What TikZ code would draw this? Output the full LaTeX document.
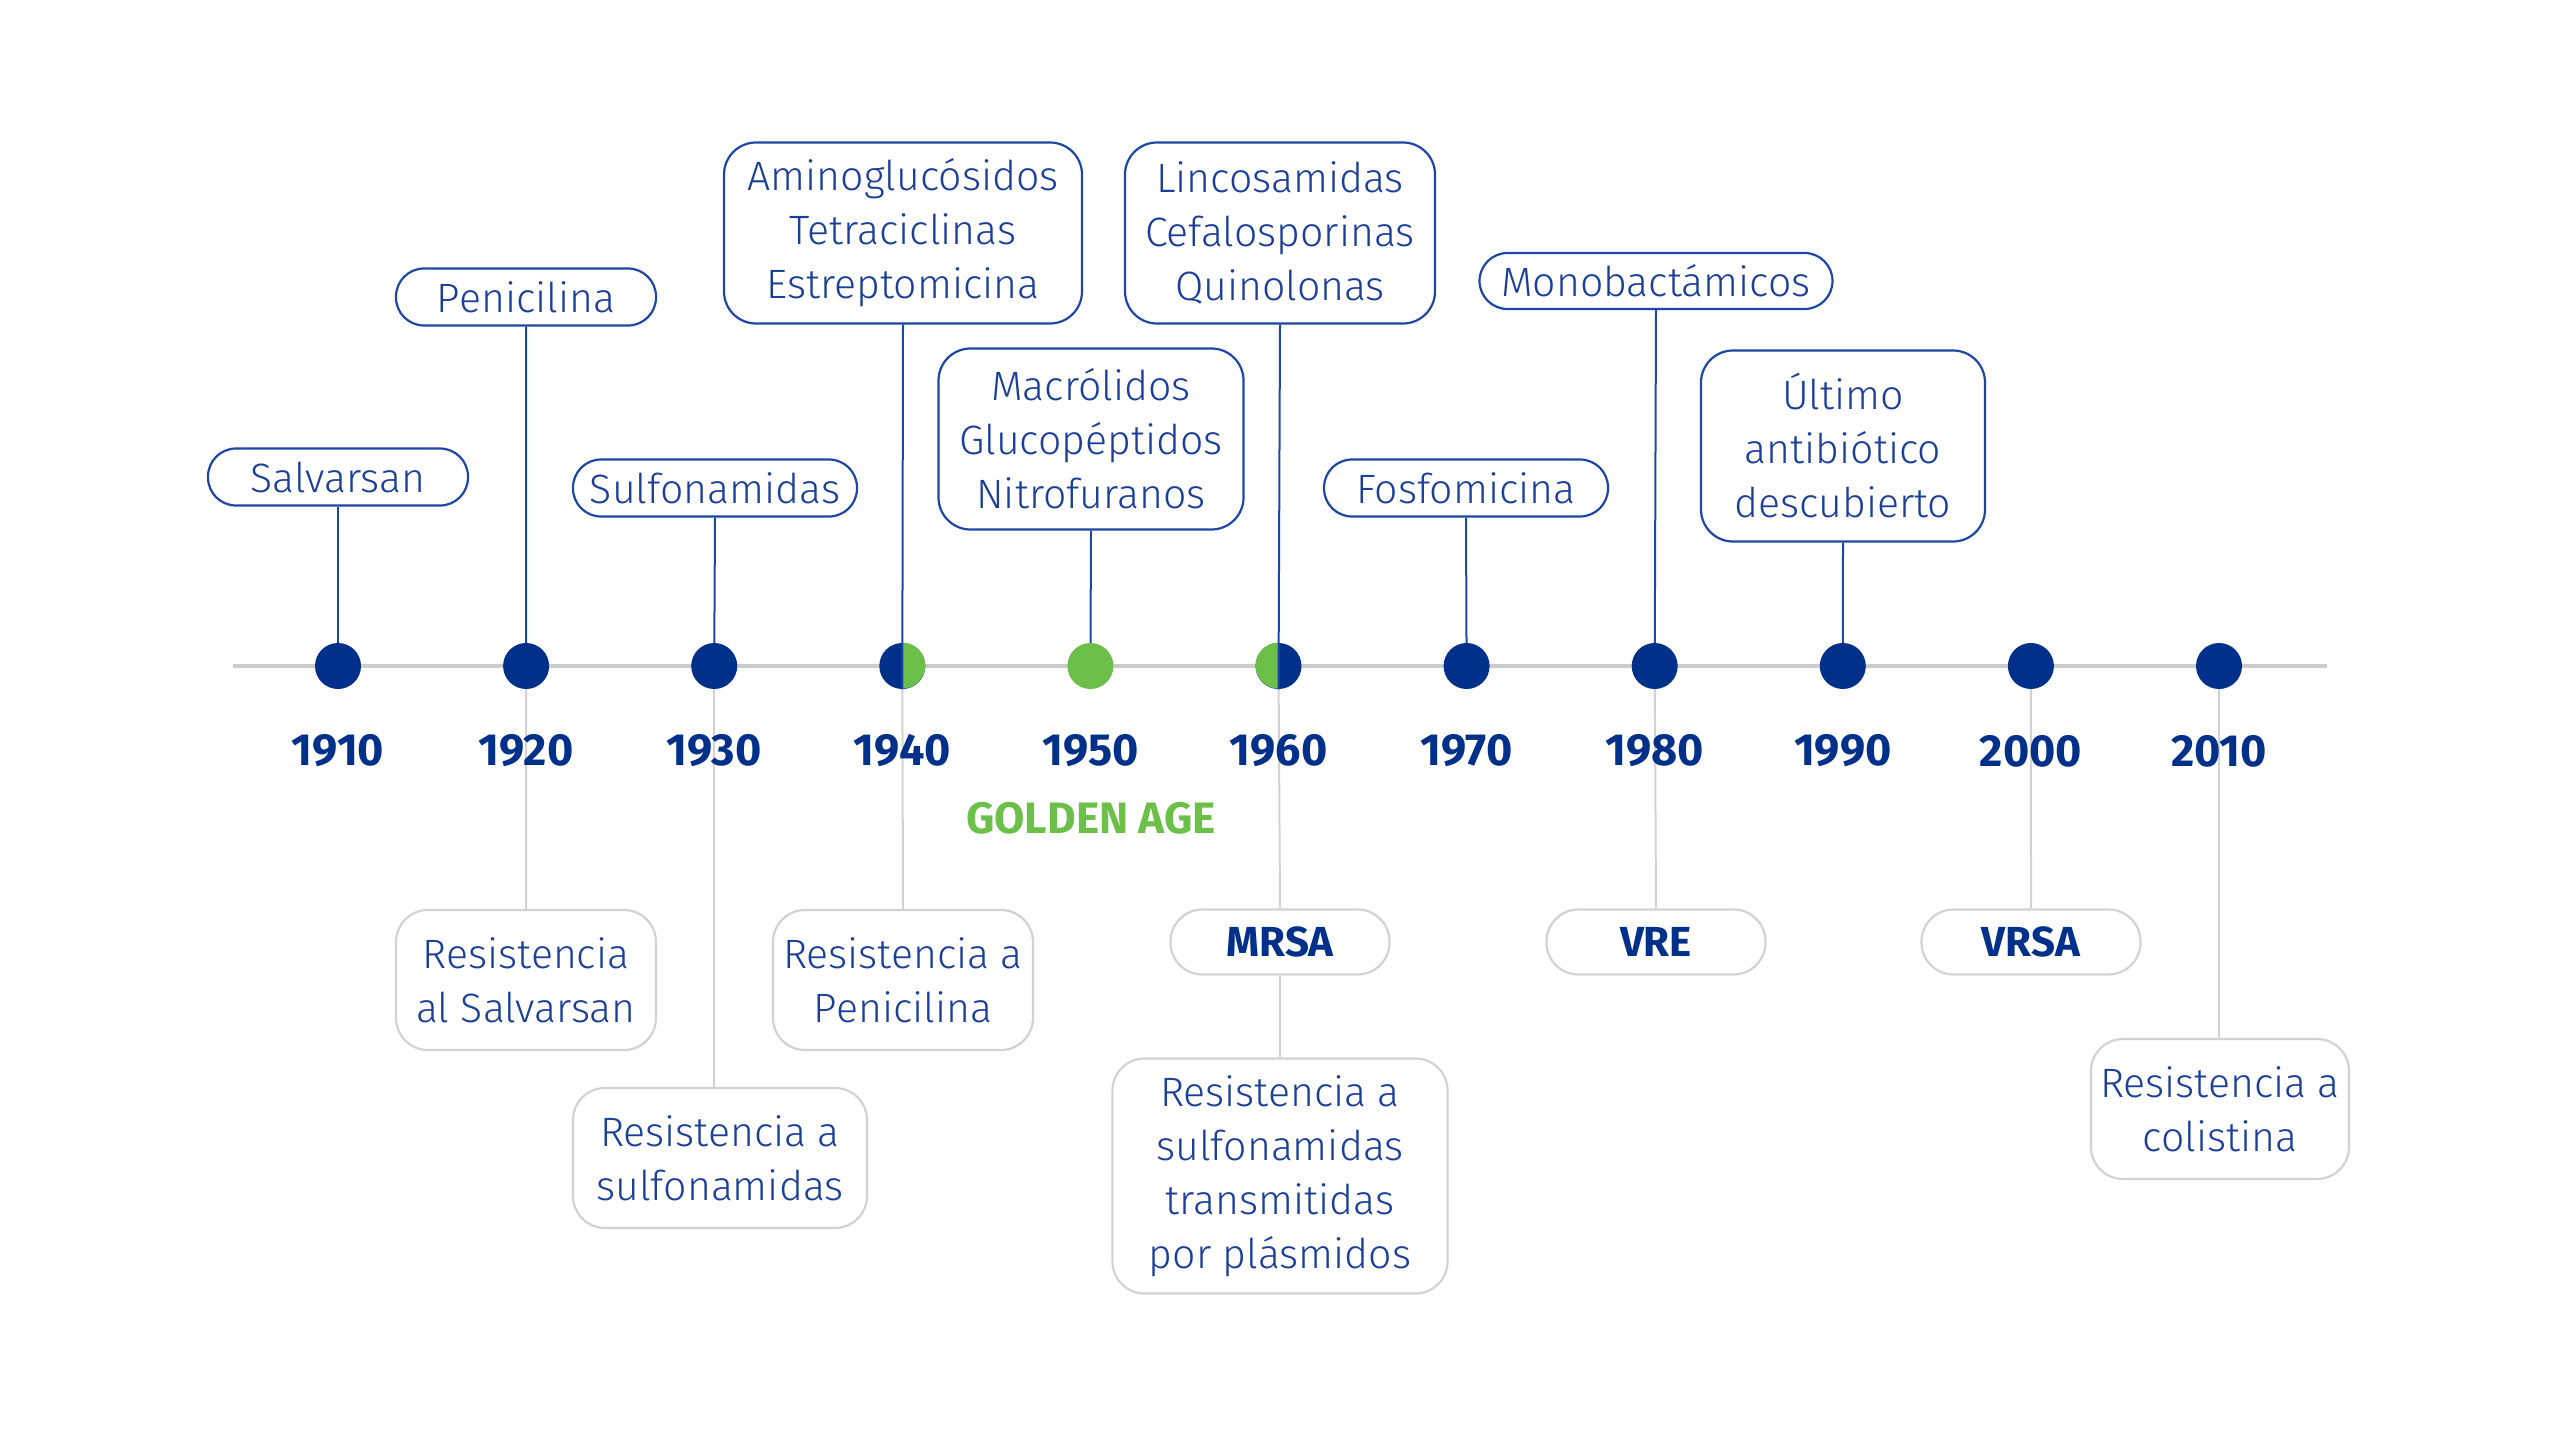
\documentclass[tikz,border=0pt]{standalone}
\usepackage{fontspec}
\usetikzlibrary{calc}
\setmainfont{Fira Sans Light}[BoldFont={Fira Sans Bold}]
\definecolor{cdot}{HTML}{00308A}
\definecolor{ctext}{HTML}{1B3F99}
\definecolor{cline}{HTML}{1E46A6}
\definecolor{cgreen}{HTML}{6CC04A}
\definecolor{caxis}{HTML}{CCCCCC}
\definecolor{cgray}{HTML}{D2D2D2}
\begin{document}
\begin{tikzpicture}[x=0.5pt,y=-0.5pt,
  topbox/.style={draw=cline, line width=1.1pt, fill=white, text=ctext, rounded corners=14pt,
    inner sep=0pt, align=center, font=\fontsize{20.5}{27}\selectfont},
  bigbox/.style={topbox, rounded corners=16pt},
  botbox/.style={bigbox, draw=cgray},
  botpill/.style={topbox, draw=cgray, rounded corners=16pt, text=cdot, font=\bfseries\fontsize{21}{25}\selectfont},
  yearlbl/.style={font=\bfseries\fontsize{22.5}{26}\selectfont, text=cdot},
  dotnode/.style={circle, fill=cdot, minimum size=23pt, inner sep=0pt},
  bluecon/.style={draw=cline, line width=1pt},
  graycon/.style={draw=cgray, line width=1pt}]
\useasboundingbox (0,0) rectangle (2560,1439);

% axis
\coordinate (axl) at (233,666);
\coordinate (axr) at (2327,666);
\draw[caxis, line width=2pt] (axl) -- (axr);

% dots (coordinates)
\foreach \i/\yr in {0/1910,1/1920,2/1930,3/1940,4/1950,5/1960,6/1970,7/1980,8/1990,9/2000,10/2010}{
  \coordinate (c\yr) at ({338+188.1*\i},666);
}

% top boxes
\node[topbox, minimum width=130pt, minimum height=28.5pt] (t1) at (338,477) {Salvarsan};
\node[topbox, minimum width=130pt, minimum height=28.5pt] (t2) at (526,297) {Penicilina};
\node[topbox, minimum width=142pt, minimum height=28.5pt] (t3) at (715,488) {Sulfonamidas};
\node[bigbox, minimum width=179pt, minimum height=90.5pt] (t4) at (903,233) {Aminoglucósidos\\Tetraciclinas\\Estreptomicina};
\node[bigbox, minimum width=152.5pt, minimum height=90.5pt] (t5) at (1091,439) {Macrólidos\\Glucopéptidos\\Nitrofuranos};
\node[bigbox, minimum width=155pt, minimum height=90.5pt] (t6) at (1280,233) {Lincosamidas\\Cefalosporinas\\Quinolonas};
\node[topbox, minimum width=142pt, minimum height=28.5pt] (t7) at (1466,488) {Fosfomicina};
\node[topbox, minimum width=176.5pt, minimum height=28pt] (t8) at (1656,281) {Monobactámicos};
\node[bigbox, minimum width=142pt, minimum height=95.5pt] (t9) at (1843,446) {Último\\antibiótico\\descubierto};

% bottom boxes
\node[botbox, minimum width=130pt, minimum height=70pt] (b2) at (526,980) {Resistencia\\al Salvarsan};
\node[botbox, minimum width=147pt, minimum height=70pt] (b3) at (720,1158) {Resistencia a\\sulfonamidas};
\node[botbox, minimum width=130pt, minimum height=70pt] (b4) at (903,980) {Resistencia a\\Penicilina};
\node[botpill, minimum width=109.5pt, minimum height=32.5pt] (b6) at (1280,942) {MRSA};
\node[botbox, minimum width=167.5pt, minimum height=117.5pt] (b6b) at (1280,1176) {Resistencia a\\sulfonamidas\\transmitidas\\por plásmidos};
\node[botpill, minimum width=109.5pt, minimum height=32.5pt] (b8) at (1656,942) {VRE};
\node[botpill, minimum width=109.5pt, minimum height=32.5pt] (b10) at (2031,942) {VRSA};
\node[botbox, minimum width=129pt, minimum height=70pt] (b11) at (2220,1109) {Resistencia a\\colistina};

% gray connectors (below)
\draw[graycon] (c1920) -- (b2.north);
\draw[graycon] (c1930) -- (c1930 |- b3.north);
\draw[graycon] (c1940) -- (b4.north);
\draw[graycon] (c1960) -- (b6.north);
\draw[graycon] (b6.south) -- (b6b.north);
\draw[graycon] (c1980) -- (b8.north);
\draw[graycon] (c2000) -- (b10.north);
\draw[graycon] (c2010) -- (c2010 |- b11.north);

% blue connectors (above)
\draw[bluecon] (t1.south) -- (c1910);
\draw[bluecon] (t2.south) -- (c1920);
\draw[bluecon] (t3.south) -- (c1930);
\draw[bluecon] (t5.south) -- (c1950);
\draw[bluecon] (t7.south) -- (c1970);
\draw[bluecon] (t8.south) -- (c1980);
\draw[bluecon] (t9.south) -- (c1990);

% dots
\foreach \yr in {1910,1920,1930,1940,1960,1970,1980,1990,2000,2010}{
  \node[dotnode] (d\yr) at (c\yr) {};
}
\node[dotnode, fill=cgreen] (d1950) at (c1950) {};
\fill[cgreen] (d1940.north) arc[start angle=90, end angle=-90, radius=11.5pt] -- cycle;
\fill[cgreen] (d1960.north) arc[start angle=90, end angle=270, radius=11.5pt] -- cycle;
\draw[bluecon] (t4.south) -- (d1940.south);
\draw[bluecon] (t6.south) -- (d1960.south);

% year labels
\foreach \yr in {1910,1920,1930,1940,1950,1960,1970,1980,1990,2000,2010}{
  \node[yearlbl] (y\yr) at ($(c\yr)+(0,85)$) {\yr};
}
\node[font=\bfseries\fontsize{22}{26}\selectfont, text=cgreen] (golden) at (1091,818) {GOLDEN AGE};
\end{tikzpicture}
\end{document}
